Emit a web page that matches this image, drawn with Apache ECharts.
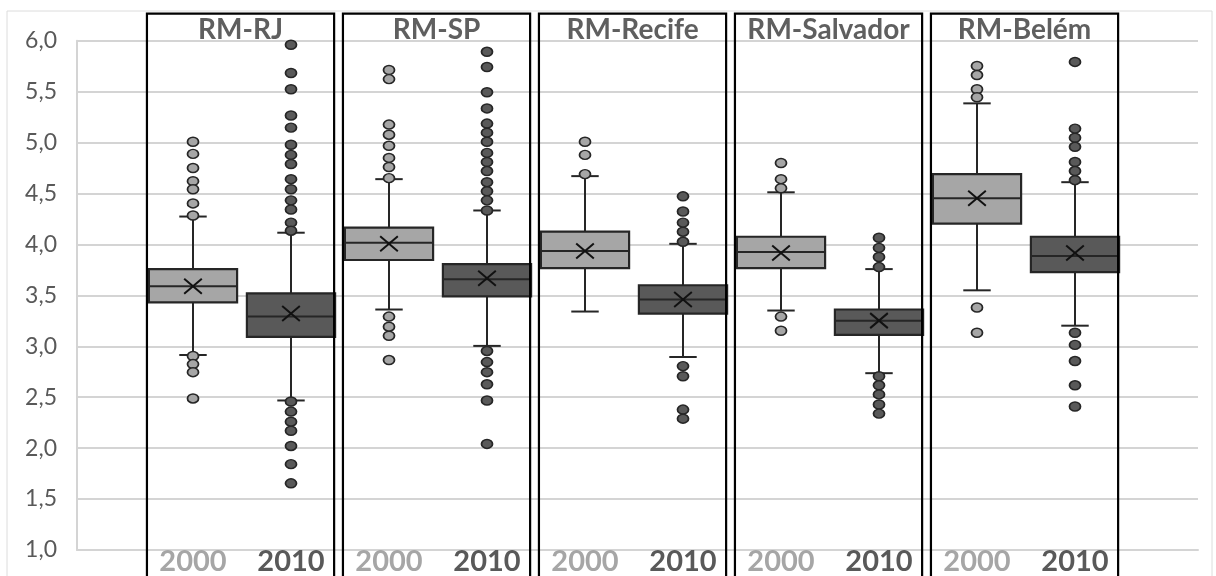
<!DOCTYPE html>
<html>
<head>
<meta charset="utf-8">
<script src="https://cdn.jsdelivr.net/npm/echarts@6/dist/echarts.min.js"></script>
<style>
html,body{margin:0;padding:0;background:#fff;}
#chart{width:1216px;height:576px;}
</style>
</head>
<body>
<div id="chart"></div>
<script>
// ---------- data ----------
const groups = ['RM-RJ', 'RM-SP', 'RM-Recife', 'RM-Salvador', 'RM-Belém'];
const years = ['2000', '2010'];
const yTicks = ['1,0','1,5','2,0','2,5','3,0','3,5','4,0','4,5','5,0','5,5','6,0'];

// 2000 box statistics (per group)
const whiskerLow2000  = [2.89, 3.34, 3.32, 3.33, 3.53];
const q1_2000         = [3.41, 3.83, 3.75, 3.75, 4.19];
const median2000      = [3.57, 4.00, 3.92, 3.91, 4.44];
const q3_2000         = [3.74, 4.15, 4.11, 4.06, 4.68];
const whiskerHigh2000 = [4.26, 4.63, 4.66, 4.50, 5.38];
const mean2000        = [3.57, 3.99, 3.92, 3.90, 4.44];

// 2010 box statistics (per group)
const whiskerLow2010  = [2.44, 2.98, 2.87, 2.71, 3.18];
const q1_2010         = [3.07, 3.47, 3.30, 3.09, 3.71];
const median2010      = [3.27, 3.64, 3.44, 3.23, 3.87];
const q3_2010         = [3.50, 3.79, 3.58, 3.34, 4.06];
const whiskerHigh2010 = [4.10, 4.32, 3.99, 3.74, 4.60];
const mean2010        = [3.30, 3.65, 3.44, 3.23, 3.90];

// outliers (per group)
const outliers2000 = [
  [5.00, 4.88, 4.74, 4.61, 4.53, 4.39, 4.27, 2.88, 2.80, 2.72, 2.46],
  [5.71, 5.62, 5.17, 5.07, 4.96, 4.84, 4.75, 4.64, 3.27, 3.17, 3.08, 2.84],
  [5.00, 4.87, 4.68],
  [4.79, 4.63, 4.54, 3.27, 3.13],
  [5.75, 5.66, 5.52, 5.44, 3.36, 3.11]
];
const outliers2010 = [
  [5.96, 5.68, 5.52, 5.26, 5.14, 4.97, 4.87, 4.78, 4.63, 4.53, 4.42, 4.33, 4.20, 4.12, 2.43, 2.33, 2.23, 2.14, 1.99, 1.81, 1.62],
  [5.89, 5.74, 5.49, 5.33, 5.18, 5.09, 5.00, 4.89, 4.80, 4.71, 4.60, 4.51, 4.42, 4.32, 2.93, 2.82, 2.72, 2.60, 2.44, 2.01],
  [4.46, 4.31, 4.20, 4.11, 4.01, 2.78, 2.68, 2.35, 2.26],
  [4.05, 3.95, 3.86, 3.76, 2.68, 2.59, 2.50, 2.40, 2.31],
  [5.79, 5.13, 5.04, 4.95, 4.80, 4.71, 4.62, 3.11, 2.99, 2.83, 2.59, 2.38]
];

// ---------- build ----------
const categories = [];
groups.forEach(g => years.forEach(y => categories.push(g + '|' + y)));

const box2000 = groups.map((g, i) => [2 * i, whiskerLow2000[i], q1_2000[i], median2000[i], q3_2000[i], whiskerHigh2000[i], mean2000[i]]);
const box2010 = groups.map((g, i) => [2 * i + 1, whiskerLow2010[i], q1_2010[i], median2010[i], q3_2010[i], whiskerHigh2010[i], mean2010[i]]);
const out2000 = [];
outliers2000.forEach((arr, i) => arr.forEach(v => out2000.push([2 * i, v])));
const out2010 = [];
outliers2010.forEach((arr, i) => arr.forEach(v => out2010.push([2 * i + 1, v])));
const panels = groups.map((g, i) => [2 * i, 2 * i + 1]);

const FONT = 'Lato, "Open Sans", sans-serif';
const EDGE = '#262626';

function makeBoxRenderer(fill) {
  return function (params, api) {
    const x = api.value(0);
    const lo = api.coord([x, api.value(1)]);
    const q1 = api.coord([x, api.value(2)]);
    const md = api.coord([x, api.value(3)]);
    const q3 = api.coord([x, api.value(4)]);
    const hi = api.coord([x, api.value(5)]);
    const mn = api.coord([x, api.value(6)]);
    const bw = api.size([1, 0])[0];
    const hw = bw * 0.45;
    const cap = bw * 0.14;
    const mx = bw * 0.09;
    const my = 7.5;
    const cx = lo[0];
    const ls = { stroke: EDGE, lineWidth: 2 };
    return {
      type: 'group',
      children: [
        { type: 'line', shape: { x1: cx, y1: q3[1], x2: cx, y2: hi[1] }, style: ls },
        { type: 'line', shape: { x1: cx - cap, y1: hi[1], x2: cx + cap, y2: hi[1] }, style: ls },
        { type: 'line', shape: { x1: cx, y1: q1[1], x2: cx, y2: lo[1] }, style: ls },
        { type: 'line', shape: { x1: cx - cap, y1: lo[1], x2: cx + cap, y2: lo[1] }, style: ls },
        { type: 'rect', shape: { x: cx - hw, y: q3[1], width: 2 * hw, height: q1[1] - q3[1] }, style: { fill: fill, stroke: EDGE, lineWidth: 2.2 } },
        { type: 'line', shape: { x1: cx - hw, y1: md[1], x2: cx + hw, y2: md[1] }, style: ls },
        { type: 'line', shape: { x1: cx - mx, y1: mn[1] - my, x2: cx + mx, y2: mn[1] + my }, style: { stroke: '#111', lineWidth: 2 } },
        { type: 'line', shape: { x1: cx - mx, y1: mn[1] + my, x2: cx + mx, y2: mn[1] - my }, style: { stroke: '#111', lineWidth: 2 } }
      ]
    };
  };
}

const chart = echarts.init(document.getElementById('chart'), null, { renderer: 'canvas' });
const GRID_TOP = 40.7, GRID_BOTTOM = 26;
const option = {
  backgroundColor: '#fff',
  animation: false,
  graphic: [{
    type: 'rect', silent: true, z: -10,
    shape: { x: 7, y: 11, width: 1205, height: 620 },
    style: { fill: 'none', stroke: '#dcdcdc', lineWidth: 1 }
  }],
  grid: [
    { left: 77, right: 18, top: GRID_TOP, bottom: GRID_BOTTOM },
    { left: 144, width: 980, top: GRID_TOP, bottom: GRID_BOTTOM }
  ],
  xAxis: [
    { gridIndex: 0, type: 'value', min: 0, max: 1, axisLabel: { show: false }, axisTick: { show: false }, splitLine: { show: false },
      axisLine: { show: true, lineStyle: { color: '#d4d4d4', width: 2 } } },
    { gridIndex: 1, type: 'category', data: categories, boundaryGap: true,
      axisLine: { show: false }, axisTick: { show: false }, splitLine: { show: false },
      axisLabel: {
        margin: 1, interval: 0,
        formatter: v => { const y = v.split('|')[1]; return y === '2000' ? '{a|' + y + '}' : '{b|' + y + '}'; },
        rich: {
          a: { color: '#a6a6a6', fontSize: 29, fontWeight: 'bold', fontFamily: FONT },
          b: { color: '#595959', fontSize: 29, fontWeight: 'bold', fontFamily: FONT }
        }
      } }
  ],
  yAxis: [
    { gridIndex: 0, type: 'value', min: 1, max: 6, interval: 0.5,
      axisLine: { show: true, lineStyle: { color: '#d4d4d4', width: 2 } },
      axisTick: { show: false },
      splitLine: { show: true, lineStyle: { color: '#d4d4d4', width: 2 } },
      axisLabel: { margin: 20, color: '#595959', fontSize: 23, fontFamily: FONT,
        formatter: v => yTicks[Math.round((v - 1) / 0.5)] } },
    { gridIndex: 1, type: 'value', min: 1, max: 6, interval: 0.5, show: false }
  ],
  series: [
    { type: 'custom', name: '2000', xAxisIndex: 1, yAxisIndex: 1, data: box2000, renderItem: makeBoxRenderer('#a6a6a6'), z: 3, clip: false, silent: true },
    { type: 'custom', name: '2010', xAxisIndex: 1, yAxisIndex: 1, data: box2010, renderItem: makeBoxRenderer('#595959'), z: 3, clip: false, silent: true },
    { type: 'scatter', xAxisIndex: 1, yAxisIndex: 1, data: out2000, symbol: 'circle', symbolSize: [11, 9], z: 4, silent: true,
      itemStyle: { color: '#a6a6a6', borderColor: EDGE, borderWidth: 1.6, opacity: 1 } },
    { type: 'scatter', xAxisIndex: 1, yAxisIndex: 1, data: out2010, symbol: 'circle', symbolSize: [11, 9], z: 4, silent: true,
      itemStyle: { color: '#595959', borderColor: EDGE, borderWidth: 1.6, opacity: 1 } },
    { type: 'custom', xAxisIndex: 1, yAxisIndex: 1, data: panels, z: 6, clip: false, silent: true,
      renderItem: function (params, api) {
        const cs = params.coordSys;
        const p0 = api.coord([api.value(0), 6]);
        const p1 = api.coord([api.value(1), 6]);
        const bw = api.size([1, 0])[0];
        const left = p0[0] - bw * 0.47;
        const right = p1[0] + bw * 0.44;
        const top = cs.y - 27;
        const bottom = cs.y + cs.height + 40;
        return {
          type: 'group',
          children: [
            { type: 'rect', shape: { x: left, y: top, width: right - left, height: bottom - top },
              style: { fill: 'none', stroke: '#000', lineWidth: 2.2 } },
            { type: 'text', x: (left + right) / 2, y: top + 16,
              style: { text: groups[params.dataIndex], fill: '#5f5f5f', fontSize: 28, fontWeight: 'bold', fontFamily: FONT,
                align: 'center', verticalAlign: 'middle' } }
          ]
        };
      } }
  ]
};
chart.setOption(option);
</script>
</body>
</html>
